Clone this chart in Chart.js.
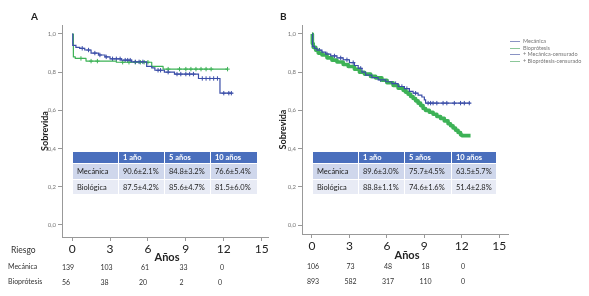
<!DOCTYPE html>
<html>
<head>
<meta charset="utf-8">
<script src="https://cdn.jsdelivr.net/npm/chart.js@4"></script>
<style>
  body { margin: 0; background: #fff; font-family: Lato, "Open Sans", sans-serif; }
  #wrap { position: relative; width: 589px; height: 296px; overflow: hidden; }
  canvas { position: absolute; top: 0; }
  .t { position: absolute; white-space: nowrap; color: #333; }
  .lbl { position: absolute; font-weight: bold; font-size: 10px; color: #222; }
  .anos { position: absolute; font-weight: bold; font-size: 11px; color: #222; transform: translate(-50%, -50%); }
  .risk { position: absolute; font-size: 7px; color: #333; transform: translate(-50%, -50%); }
  table.st { position: absolute; border-collapse: collapse; font-size: 7.5px; color: #222; table-layout: fixed; }
  table.st td { padding: 0 0 0 4px; border: 1px solid #fff; overflow: hidden; }
  table.st tr.h td { background: #4a6fbd; color: #fff; font-weight: bold; height: 11px; }
  table.st tr.r1 td { background: #cfd7ec; height: 15px; }
  table.st tr.r2 td { background: #e8ebf5; height: 14px; }
  .leg { position: absolute; font-size: 5.5px; color: #777; line-height: 6.5px; }
  .leg div { position: relative; padding-left: 13px; }
  .leg span { position: absolute; left: 0; top: 3px; width: 10px; border-top: 1px solid; }
</style>
</head>
<body>
<div id="wrap">
  <canvas id="chartA" width="290" height="296" style="left:0"></canvas>
  <canvas id="chartB" width="319" height="296" style="left:270px"></canvas>
</div>
<script>
// years shown on the time axis
const yearTicks = [0, 3, 6, 9, 12, 15];
const survTicks = [0, 0.2, 0.4, 0.6, 0.8, 1.0];

// panel A: [years, survival] after each drop
const mecA = [[0,1],[0.05,0.94],[0.3,0.93],[0.6,0.925],[1.0,0.916],[1.5,0.90],[2.1,0.89],[2.6,0.88],[3.0,0.87],
  [3.9,0.863],[4.7,0.854],[5.9,0.83],[6.3,0.823],[6.55,0.81],[7.3,0.80],[8.1,0.79],[10.0,0.767],[11.7,0.69],[12.7,0.69]];
const bioA = [[0,1],[0.1,0.88],[0.25,0.872],[1.1,0.858],[3.5,0.852],[6.3,0.83],[7.2,0.816],[12.3,0.816]];
const mecCensA = [0.8,1.3,1.8,2.2,2.7,3.2,3.5,3.8,4.2,4.4,4.6,5.0,5.3,5.6,6.8,7.0,7.6,8.3,8.6,9.0,9.3,9.6,10.3,10.6,10.9,11.2,11.5,12.0,12.4,12.6];
const bioCensA = [0.7,1.5,2.0,4.0,4.5,5.0,5.4,5.7,6.0,7.6,8.5,9.0,9.4,9.8,10.2,10.6,11.0,12.3];

// panel B
const mecB = [[0,1],[0.05,0.935],[0.2,0.925],[0.4,0.915],[0.8,0.905],[1.1,0.895],[1.5,0.885],[2.0,0.875],[2.5,0.865],
  [3.0,0.85],[3.4,0.835],[3.7,0.82],[4.0,0.80],[4.3,0.785],[4.8,0.772],[5.3,0.76],[5.9,0.75],[6.4,0.74],[6.9,0.725],
  [7.4,0.714],[7.8,0.70],[8.1,0.69],[8.5,0.68],[8.8,0.67],[9.0,0.655],[9.1,0.638],[12.7,0.638]];
const bioB = [[0,1],[0.03,0.95],[0.1,0.93],[0.3,0.915],[0.5,0.90],[0.8,0.89],[1.2,0.875],[1.6,0.863],[2.0,0.853],
  [2.5,0.84],[2.9,0.83],[3.4,0.815],[3.8,0.80],[4.2,0.79],[4.7,0.778],[5.1,0.77],[5.6,0.758],[6.0,0.745],[6.5,0.73],
  [6.9,0.716],[7.3,0.705],[7.5,0.695],[7.7,0.685],[7.9,0.673],[8.1,0.662],[8.3,0.65],[8.5,0.638],[8.7,0.625],
  [8.9,0.61],[9.1,0.60],[9.4,0.59],[9.7,0.58],[10.0,0.568],[10.3,0.558],[10.6,0.545],[10.9,0.53],[11.1,0.52],
  [11.3,0.508],[11.5,0.496],[11.7,0.484],[11.9,0.472],[12.0,0.468],[12.7,0.468]];
const mecCensB = [0.6,1.2,1.8,2.3,2.8,3.3,3.9,4.6,5.5,6.1,6.7,7.2,7.6,8.3,9.3,9.5,9.7,10.0,10.5,10.8,11.4,11.9,12.2,12.6];
const bioCensB = [];

// risk table
const riskMecA = [139, 103, 61, 33, 0];
const riskBioA = [56, 38, 20, 2, 0];
const riskMecB = [106, 73, 48, 18, 0];
const riskBioB = [893, 582, 317, 110, 0];

// survival tables
const tableHead = ["", "1 año", "5 años", "10 años"];
const tableRowsA = [["Mecánica", "90.6±2.1%", "84.8±3.2%", "76.6±5.4%"], ["Biológica", "87.5±4.2%", "85.6±4.7%", "81.5±6.0%"]];
const tableRowsB = [["Mecánica", "89.6±3.0%", "75.7±4.5%", "63.5±5.7%"], ["Biológica", "88.8±1.1%", "74.6±1.6%", "51.4±2.8%"]];

const legendItems = ["Mecánica", "Bioprótesis", "Mecánica-censurado", "Bioprótesis-censurado"];

const BLUE = "#3b4ea8";
const GREEN = "#3db256";

function toPts(arr) {
  return arr.map(p => ({ x: p[0], y: p[1] }));
}
function censPts(times, curve) {
  return times.map(t => {
    let s = curve[0][1];
    for (const p of curve) if (p[0] <= t) s = p[1];
    return { x: t, y: s };
  });
}

function makeChart(id, cfg) {
  const ctx = document.getElementById(id).getContext("2d");
  new Chart(ctx, {
    type: "line",
    data: {
      datasets: [
        { data: toPts(cfg.mec), borderColor: BLUE, borderWidth: 1.2, stepped: true, pointRadius: 0, fill: false },
        { data: toPts(cfg.bio), borderColor: GREEN, borderWidth: cfg.bioWidth, stepped: true, pointRadius: 0,
          fill: false, borderJoinStyle: "round" },
        { data: censPts(cfg.mecCens, cfg.mec), showLine: false, pointStyle: "cross", pointRadius: 2.2,
          borderColor: BLUE, borderWidth: 1 },
        { data: censPts(cfg.bioCens, cfg.bio), showLine: false, pointStyle: "cross", pointRadius: 2.2,
          borderColor: GREEN, borderWidth: 1 }
      ]
    },
    options: {
      responsive: false,
      animation: false,
      layout: { padding: { top: 25, right: cfg.padRight, left: 0, bottom: 0 } },
      plugins: { legend: { display: false }, tooltip: { enabled: false } },
      scales: {
        x: {
          type: "linear", min: -0.8, max: cfg.xMax,
          afterBuildTicks: s => { s.ticks = yearTicks.map(v => ({ value: v })); },
          afterFit: s => { s.height = cfg.xHeight; },
          ticks: { font: { family: "Lato", size: 12 }, color: "#222", padding: 1, maxRotation: 0 },
          grid: { drawOnChartArea: false, tickLength: 4, color: "#999" },
          border: { color: "#999" }
        },
        y: {
          min: cfg.yMin, max: 1.047,
          afterBuildTicks: s => { s.ticks = survTicks.map(v => ({ value: v })); },
          afterFit: s => { s.width = cfg.yWidth; },
          ticks: { font: { family: "Lato", size: 6 }, color: "#777", padding: 2,
            callback: v => v.toFixed(1).replace(".", ",") },
          grid: { drawOnChartArea: false, tickLength: 4, color: "#999" },
          border: { color: "#999" },
          title: { display: true, text: "Sobrevida", color: "#222",
            font: { family: "Lato", size: 9, weight: "bold" }, padding: { top: cfg.titlePad, bottom: 0 } }
        }
      }
    }
  });
}

makeChart("chartA", { mec: mecA, bio: bioA, mecCens: mecCensA, bioCens: bioCensA, bioWidth: 1.2,
  xMax: 15.5, yMin: -0.063, padRight: 22, xHeight: 59, yWidth: 62, titlePad: 40 });
makeChart("chartB", { mec: mecB, bio: bioB, mecCens: mecCensB, bioCens: bioCensB, bioWidth: 3.6,
  xMax: 15.7, yMin: -0.047, padRight: 81, xHeight: 62, yWidth: 32, titlePad: 8 });

const wrap = document.getElementById("wrap");
function addText(cls, text, css) {
  const d = document.createElement("div");
  d.className = cls;
  d.textContent = text;
  Object.assign(d.style, css);
  wrap.appendChild(d);
  return d;
}

addText("lbl", "A", { left: "31px", top: "10px" });
addText("lbl", "B", { left: "280px", top: "10px" });
addText("anos", "Años", { left: "167px", top: "256px" });
addText("anos", "Años", { left: "407px", top: "254px" });
addText("t", "Riesgo", { left: "11px", top: "245px", fontSize: "8.5px" });
addText("t", "Mecánica", { left: "8px", top: "262px", fontSize: "7px" });
addText("t", "Bioprótesis", { left: "8px", top: "277px", fontSize: "7px" });

function riskRow(vals, x0, step, y) {
  vals.forEach((v, i) => addText("risk", String(v), { left: (x0 + i * step) + "px", top: y + "px" }));
}
riskRow(riskMecA, 68, 38.5, 267);
riskRow(riskBioA, 66, 38.5, 282);
riskRow(riskMecB, 313, 37.5, 266);
riskRow(riskBioB, 313, 37.5, 281);

function addTable(rows, left, widths) {
  const t = document.createElement("table");
  t.className = "st";
  t.style.left = left + "px";
  t.style.top = "151px";
  let html = "<colgroup>" + widths.map(w => `<col style="width:${w}px">`).join("") + "</colgroup>";
  html += '<tr class="h">' + tableHead.map(h => `<td>${h}</td>`).join("") + "</tr>";
  rows.forEach((r, i) => {
    html += `<tr class="r${i + 1}">` + r.map(c => `<td>${c}</td>`).join("") + "</tr>";
  });
  t.innerHTML = html;
  wrap.appendChild(t);
}
addTable(tableRowsA, 72, [46, 46, 46, 47]);
addTable(tableRowsB, 312, [46, 46, 47, 45]);

const leg = document.createElement("div");
leg.className = "leg";
leg.style.left = "510px";
leg.style.top = "38px";
legendItems.forEach((name, i) => {
  const row = document.createElement("div");
  const sw = document.createElement("span");
  sw.style.borderColor = i % 2 === 0 ? "#8a93c4" : "#8cc79a";
  row.appendChild(sw);
  row.appendChild(document.createTextNode((i > 1 ? "+ " : "") + name));
  leg.appendChild(row);
});
wrap.appendChild(leg);
</script>
</body>
</html>
